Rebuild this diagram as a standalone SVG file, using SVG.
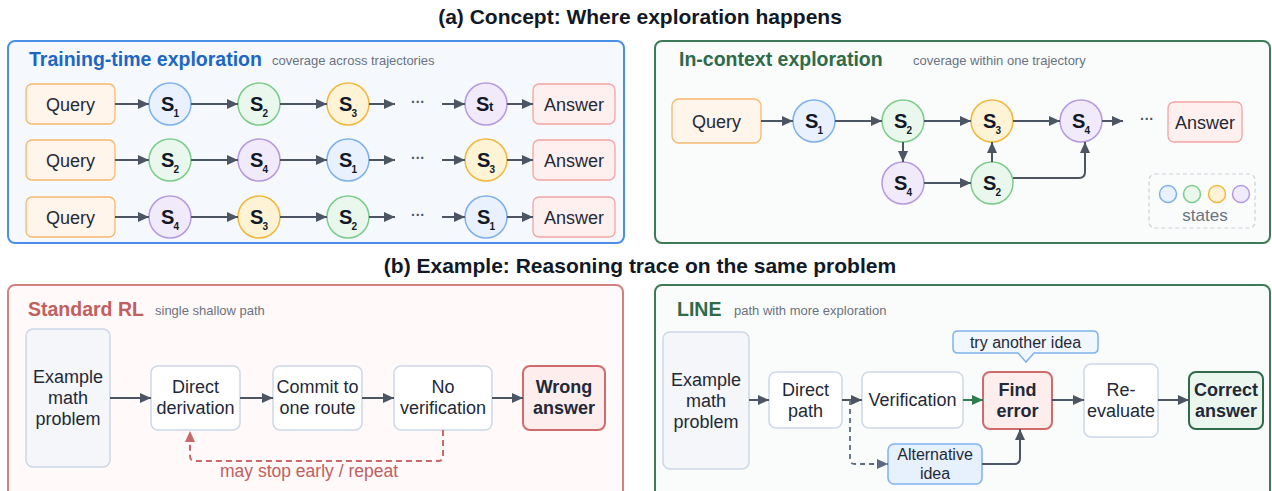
<svg xmlns="http://www.w3.org/2000/svg" width="1272" height="491" viewBox="0 0 1272 491">
<defs>
<style>
text{font-family:"Liberation Sans",Arial,sans-serif;fill:#1f2937}
.h1{font-size:21px;font-weight:bold;fill:#111827;text-anchor:middle}
.ttl{font-size:19.5px;font-weight:bold}
.sub{font-size:13px;fill:#6b7280}
.lbl{font-size:18px;text-anchor:middle}
.b{font-weight:bold}
.s{font-size:20px;font-weight:bold;fill:#111827}
.si{font-size:10px;font-weight:bold;fill:#111827}
.q{fill:#fff5ea;stroke:#f6b76d;stroke-width:1.3}
.ans{fill:#fff0f0;stroke:#f5a3a3;stroke-width:1.3}
.c1{fill:#e8f1fd;stroke:#7eb0ee;stroke-width:1.5}
.c2{fill:#eaf7ec;stroke:#7ccd8c;stroke-width:1.5}
.c3{fill:#fff3d6;stroke:#f2b73d;stroke-width:1.5}
.c4{fill:#f1eafb;stroke:#b49ae0;stroke-width:1.5}
.box{fill:#ffffff;stroke:#cdd8e6;stroke-width:1.5}
.pb{fill:#f4f6fa;stroke:#cdd8e6;stroke-width:1.5}
.bad{fill:#fdeded;stroke:#d06b6b;stroke-width:2}
.good{fill:#ebf6ee;stroke:#2f6b4a;stroke-width:2}
.alt{fill:#e7f1fd;stroke:#7eb3ee;stroke-width:1.5}
.ar{fill:none;stroke:#4b5563;stroke-width:2;marker-end:url(#ah)}
.dots{font-size:14px;fill:#4b5563;text-anchor:middle;font-weight:bold}
</style>
<marker id="ah" markerUnits="userSpaceOnUse" markerWidth="11" markerHeight="10" refX="11" refY="5" orient="auto"><path d="M0,0 L11,5 L0,10 Z" fill="#4b5563"/></marker>
<marker id="ahg" markerUnits="userSpaceOnUse" markerWidth="11" markerHeight="10" refX="11" refY="5" orient="auto"><path d="M0,0 L11,5 L0,10 Z" fill="#2e7d4f"/></marker>
<marker id="ahr" markerUnits="userSpaceOnUse" markerWidth="11" markerHeight="10" refX="11" refY="5" orient="auto"><path d="M0,0 L11,5 L0,10 Z" fill="#c9686a"/></marker>
<marker id="ahd" markerUnits="userSpaceOnUse" markerWidth="11" markerHeight="10" refX="11" refY="5" orient="auto"><path d="M0,0 L11,5 L0,10 Z" fill="#5b6b80"/></marker>
</defs>
<rect width="1272" height="491" fill="#ffffff"/>

<text class="h1" x="640" y="24">(a) Concept: Where exploration happens</text>
<text class="h1" x="640" y="273">(b) Example: Reasoning trace on the same problem</text>

<!-- Panel A1 -->
<g id="panel-training">
<rect x="8" y="41" width="616" height="202" rx="7" fill="#f5f9fe" stroke="#4a8ee6" stroke-width="2"/>
<text class="ttl" x="29" y="66" style="fill:#1d66c6">Training-time exploration</text>
<text class="sub" x="272" y="65">coverage across trajectories</text>
</g>

<!-- Row 1 -->
<g id="r1-query"><rect class="q" x="26" y="84" width="89" height="40" rx="6"/><text class="lbl" x="70.5" y="110.5">Query</text></g>
<g id="r1-s1"><circle class="c1" cx="170" cy="104" r="21"/><text class="s" x="161" y="111">S</text><text class="si" x="173.5" y="117">1</text></g>
<g id="r1-s2"><circle class="c2" cx="259" cy="104" r="21"/><text class="s" x="250" y="111">S</text><text class="si" x="262.5" y="117">2</text></g>
<g id="r1-s3"><circle class="c3" cx="348" cy="104" r="21"/><text class="s" x="339" y="111">S</text><text class="si" x="351.5" y="117">3</text></g>
<text class="dots" x="418" y="107">···</text>
<g id="r1-st"><circle class="c4" cx="486" cy="104" r="21"/><text class="s" x="476" y="111">S</text><text class="s" x="489" y="111" style="font-size:13px">t</text></g>
<g id="r1-answer"><rect class="ans" x="533" y="84" width="82" height="40" rx="6"/><text class="lbl" x="574" y="110.5">Answer</text></g>

<!-- Row 2 -->
<g id="r2-query"><rect class="q" x="26" y="140" width="89" height="40" rx="6"/><text class="lbl" x="70.5" y="166.5">Query</text></g>
<g id="r2-s2"><circle class="c2" cx="170" cy="160" r="21"/><text class="s" x="161" y="167">S</text><text class="si" x="173.5" y="173">2</text></g>
<g id="r2-s4"><circle class="c4" cx="259" cy="160" r="21"/><text class="s" x="250" y="167">S</text><text class="si" x="262.5" y="173">4</text></g>
<g id="r2-s1"><circle class="c1" cx="348" cy="160" r="21"/><text class="s" x="339" y="167">S</text><text class="si" x="351.5" y="173">1</text></g>
<text class="dots" x="418" y="163">···</text>
<g id="r2-s3"><circle class="c3" cx="486" cy="160" r="21"/><text class="s" x="477" y="167">S</text><text class="si" x="489.5" y="173">3</text></g>
<g id="r2-answer"><rect class="ans" x="533" y="140" width="82" height="40" rx="6"/><text class="lbl" x="574" y="166.5">Answer</text></g>

<!-- Row 3 -->
<g id="r3-query"><rect class="q" x="26" y="197" width="89" height="40" rx="6"/><text class="lbl" x="70.5" y="223.5">Query</text></g>
<g id="r3-s4"><circle class="c4" cx="170" cy="217" r="21"/><text class="s" x="161" y="224">S</text><text class="si" x="173.5" y="230">4</text></g>
<g id="r3-s3"><circle class="c3" cx="259" cy="217" r="21"/><text class="s" x="250" y="224">S</text><text class="si" x="262.5" y="230">3</text></g>
<g id="r3-s2"><circle class="c2" cx="348" cy="217" r="21"/><text class="s" x="339" y="224">S</text><text class="si" x="351.5" y="230">2</text></g>
<text class="dots" x="418" y="220">···</text>
<g id="r3-s1"><circle class="c1" cx="486" cy="217" r="21"/><text class="s" x="477" y="224">S</text><text class="si" x="489.5" y="230">1</text></g>
<g id="r3-answer"><rect class="ans" x="533" y="197" width="82" height="40" rx="6"/><text class="lbl" x="574" y="223.5">Answer</text></g>

<!-- Panel A2 -->
<g id="panel-incontext">
<rect x="655" y="41" width="615" height="202" rx="7" fill="#fafcfb" stroke="#3d7a57" stroke-width="2"/>
<text class="ttl" x="679" y="66" style="fill:#2f6b4a">In-context exploration</text>
<text class="sub" x="913" y="65">coverage within one trajectory</text>
</g>
<g id="ic-query"><rect class="q" x="672" y="99" width="89" height="44" rx="7"/><text class="lbl" x="716.5" y="127.5">Query</text></g>
<g id="ic-s1"><circle class="c1" cx="814" cy="121" r="21"/><text class="s" x="805" y="128">S</text><text class="si" x="817.5" y="134">1</text></g>
<g id="ic-s2"><circle class="c2" cx="903" cy="121" r="21"/><text class="s" x="894" y="128">S</text><text class="si" x="906.5" y="134">2</text></g>
<g id="ic-s3"><circle class="c3" cx="992" cy="121" r="21"/><text class="s" x="983" y="128">S</text><text class="si" x="995.5" y="134">3</text></g>
<g id="ic-s4"><circle class="c4" cx="1081" cy="121" r="21"/><text class="s" x="1072" y="128">S</text><text class="si" x="1084.5" y="134">4</text></g>
<g id="ic-s4b"><circle class="c4" cx="903" cy="183" r="21"/><text class="s" x="894" y="190">S</text><text class="si" x="906.5" y="196">4</text></g>
<g id="ic-s2b"><circle class="c2" cx="992" cy="183" r="21"/><text class="s" x="983" y="190">S</text><text class="si" x="995.5" y="196">2</text></g>
<text class="dots" x="1147" y="124">···</text>
<g id="ic-answer"><rect class="ans" x="1168" y="102" width="74" height="40" rx="6"/><text class="lbl" x="1205" y="128.5">Answer</text></g>
<g id="legend">
<rect x="1149" y="174" width="106" height="54" rx="6" fill="none" stroke="#c9d0db" stroke-width="1.2" stroke-dasharray="4 3"/>
<circle class="c1" cx="1168" cy="194" r="8.5"/>
<circle class="c2" cx="1192" cy="194" r="8.5"/>
<circle class="c3" cx="1217" cy="194" r="8.5"/>
<circle class="c4" cx="1241" cy="194" r="8.5"/>
<text x="1205" y="221" style="font-size:17px;fill:#6b7280;text-anchor:middle">states</text>
</g>

<!-- Panel B1 -->
<g id="panel-standard">
<rect x="8" y="285" width="615" height="225" rx="7" fill="#fff9f9" stroke="#d4807f" stroke-width="2"/>
<text class="ttl" x="28" y="316" style="fill:#c0605f">Standard RL</text>
<text class="sub" x="155" y="315">single shallow path</text>
</g>
<g id="rl-problem"><rect class="pb" x="26" y="329" width="84" height="138" rx="7"/><text class="lbl" x="68" y="383">Example</text><text class="lbl" x="68" y="404">math</text><text class="lbl" x="68" y="425">problem</text></g>
<g id="rl-direct"><rect class="box" x="151" y="366" width="89" height="64" rx="7"/><text class="lbl" x="195.5" y="393">Direct</text><text class="lbl" x="195.5" y="414">derivation</text></g>
<g id="rl-commit"><rect class="box" x="273" y="366" width="89" height="64" rx="7"/><text class="lbl" x="317.5" y="393">Commit to</text><text class="lbl" x="317.5" y="414">one route</text></g>
<g id="rl-noverif"><rect class="box" x="394" y="366" width="98" height="64" rx="7"/><text class="lbl" x="443" y="393">No</text><text class="lbl" x="443" y="414">verification</text></g>
<g id="rl-wrong"><rect class="bad" x="523" y="366" width="82" height="64" rx="7"/><text class="lbl b" x="564" y="393">Wrong</text><text class="lbl b" x="564" y="414">answer</text></g>
<text x="309" y="477" style="font-size:17.5px;fill:#c0605f;text-anchor:middle">may stop early / repeat</text>

<!-- Panel B2 -->
<g id="panel-line">
<rect x="655" y="285" width="615" height="225" rx="7" fill="#fafcfb" stroke="#3d7a57" stroke-width="2"/>
<text class="ttl" x="677" y="316" style="fill:#2f6b4a">LINE</text>
<text class="sub" x="734" y="315">path with more exploration</text>
</g>
<g id="ln-problem"><rect class="pb" x="663" y="332" width="86" height="137" rx="7"/><text class="lbl" x="706" y="385.5">Example</text><text class="lbl" x="706" y="406.5">math</text><text class="lbl" x="706" y="427.5">problem</text></g>
<g id="ln-direct"><rect class="box" x="769" y="372" width="73" height="56" rx="7"/><text class="lbl" x="805.5" y="395.5">Direct</text><text class="lbl" x="805.5" y="416.5">path</text></g>
<g id="ln-verif"><rect class="box" x="862" y="372" width="101" height="56" rx="7"/><text class="lbl" x="912.5" y="406">Verification</text></g>
<g id="ln-find"><rect class="bad" x="983" y="372" width="69" height="57" rx="7"/><text class="lbl b" x="1017.5" y="395.5">Find</text><text class="lbl b" x="1017.5" y="416.5">error</text></g>
<g id="ln-reeval"><rect class="box" x="1084" y="364" width="74" height="73" rx="7"/><text class="lbl" x="1121" y="395.5">Re-</text><text class="lbl" x="1121" y="416.5">evaluate</text></g>
<g id="ln-correct"><rect class="good" x="1189" y="372" width="74" height="57" rx="7"/><text class="lbl b" x="1226" y="395.5">Correct</text><text class="lbl b" x="1226" y="416.5">answer</text></g>
<g id="ln-alt"><rect class="alt" x="888" y="444" width="94" height="40" rx="6"/><text x="935" y="460" style="font-size:16px;text-anchor:middle">Alternative</text><text x="935" y="479" style="font-size:16px;text-anchor:middle">idea</text></g>
<g id="ln-callout"><path d="M958,331 H1093 Q1098,331 1098,336 V348 Q1098,353 1093,353 H1034 L1026,362 L1018,353 H958 Q953,353 953,348 V336 Q953,331 958,331 Z" fill="#f1f7fe" stroke="#7eb3ee" stroke-width="1.5"/><text x="1025.5" y="347.5" style="font-size:16px;text-anchor:middle">try another idea</text></g>

<!-- Connectors -->
<g id="connectors">
<line class="ar" x1="115" y1="104" x2="149" y2="104"/>
<line class="ar" x1="191" y1="104" x2="238" y2="104"/>
<line class="ar" x1="280" y1="104" x2="327" y2="104"/>
<line class="ar" x1="369" y1="104" x2="395" y2="104"/>
<line class="ar" x1="442" y1="104" x2="465" y2="104"/>
<line class="ar" x1="507" y1="104" x2="533" y2="104"/>

<line class="ar" x1="115" y1="160" x2="149" y2="160"/>
<line class="ar" x1="191" y1="160" x2="238" y2="160"/>
<line class="ar" x1="280" y1="160" x2="327" y2="160"/>
<line class="ar" x1="369" y1="160" x2="395" y2="160"/>
<line class="ar" x1="442" y1="160" x2="465" y2="160"/>
<line class="ar" x1="507" y1="160" x2="533" y2="160"/>

<line class="ar" x1="115" y1="217" x2="149" y2="217"/>
<line class="ar" x1="191" y1="217" x2="238" y2="217"/>
<line class="ar" x1="280" y1="217" x2="327" y2="217"/>
<line class="ar" x1="369" y1="217" x2="395" y2="217"/>
<line class="ar" x1="442" y1="217" x2="465" y2="217"/>
<line class="ar" x1="507" y1="217" x2="533" y2="217"/>

<line class="ar" x1="761" y1="121" x2="793" y2="121"/>
<line class="ar" x1="835" y1="121" x2="882" y2="121"/>
<line class="ar" x1="924" y1="121" x2="971" y2="121"/>
<line class="ar" x1="1013" y1="121" x2="1060" y2="121"/>
<line class="ar" x1="1102" y1="121" x2="1123" y2="121"/>
<line class="ar" x1="903" y1="142" x2="903" y2="162"/>
<line class="ar" x1="924" y1="183" x2="971" y2="183"/>
<line class="ar" x1="992" y1="162" x2="992" y2="142"/>
<path class="ar" d="M1013,178 H1079 Q1085,178 1085,172 V142"/>

<line class="ar" x1="110" y1="398" x2="151" y2="398"/>
<line class="ar" x1="240" y1="398" x2="273" y2="398"/>
<line class="ar" x1="362" y1="398" x2="394" y2="398"/>
<line class="ar" x1="492" y1="398" x2="523" y2="398"/>
<path d="M443,430 V456 Q443,461 438,461 H195 Q190,461 190,456 V431" fill="none" stroke="#c9686a" stroke-width="2" stroke-dasharray="6 4" marker-end="url(#ahr)"/>

<line class="ar" x1="749" y1="400" x2="769" y2="400"/>
<line class="ar" x1="842" y1="400" x2="862" y2="400"/>
<line x1="963" y1="400" x2="983" y2="400" fill="none" stroke="#2e7d4f" stroke-width="2" marker-end="url(#ahg)"/>
<line class="ar" x1="1052" y1="400" x2="1084" y2="400"/>
<line class="ar" x1="1158" y1="400" x2="1189" y2="400"/>
<path d="M850,400 V459 Q850,464 855,464 H888" fill="none" stroke="#5b6b80" stroke-width="1.8" stroke-dasharray="5 4" marker-end="url(#ahd)"/>
<path class="ar" d="M982,464 H1014 Q1020,464 1020,458 V429"/>
</g>
</svg>
